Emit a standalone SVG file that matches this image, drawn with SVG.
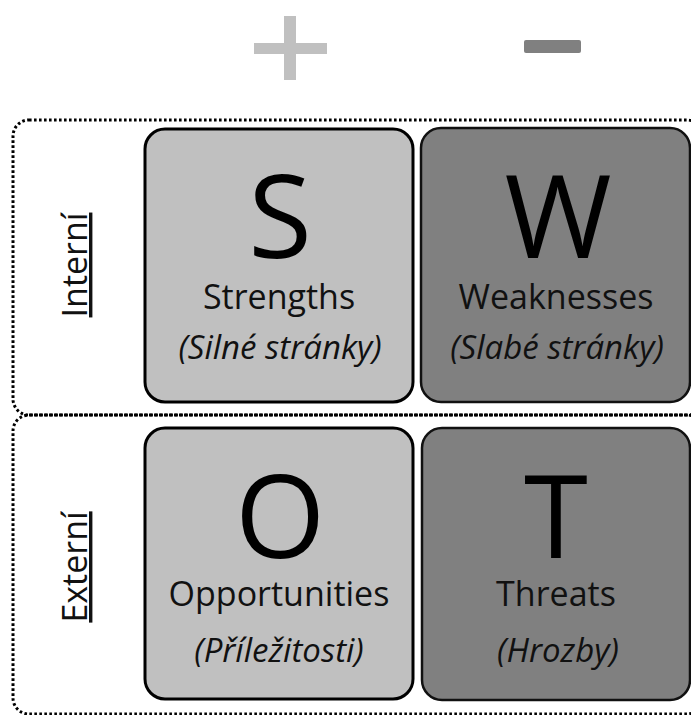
<svg xmlns="http://www.w3.org/2000/svg" width="691" height="715" viewBox="0 0 691 715">
  <style>
    .zone { fill: none; stroke: #000; stroke-width: 3; stroke-dasharray: 2.6 2.4; }
    .pos { fill: #c0c0c0; stroke: #000; stroke-width: 3; }
    .neg { fill: #808080; stroke: #111; stroke-width: 2.5; }
    text { font-family: "Open Sans", "Noto Sans", sans-serif; fill: #000; text-anchor: middle; }
    .big { font-size: 116px; }
    .name { font-size: 34px; fill: #111; }
    .cz { font-size: 33px; font-style: italic; fill: #111; }
    .side { font-size: 34px; fill: #111; }
  </style>

  <!-- column headers: positive / negative -->
  <g id="header-plus">
    <rect x="284" y="16" width="12" height="64" fill="#c0c0c0"/>
    <rect x="254" y="43" width="73" height="11" fill="#c0c0c0"/>
  </g>
  <g id="header-minus">
    <rect x="524" y="40" width="57" height="13" rx="2" fill="#808080"/>
  </g>

  <!-- row frames -->
  <g id="zone-internal">
    <rect class="zone" x="13" y="120" width="690" height="295" rx="16"/>
    <text class="side" transform="translate(87 265) rotate(-90)" text-decoration="underline">Interní</text>
  </g>
  <g id="zone-external">
    <rect class="zone" x="13" y="415" width="690" height="299" rx="16"/>
    <text class="side" transform="translate(87 567) rotate(-90)" text-decoration="underline">Externí</text>
  </g>

  <!-- quadrants -->
  <g id="strengths">
    <rect class="pos" x="145" y="129" width="268" height="273" rx="20"/>
    <text class="big" x="280" y="258">S</text>
    <text class="name" x="279" y="309">Strengths</text>
    <text class="cz" x="280" y="359">(Silné stránky)</text>
  </g>
  <g id="weaknesses">
    <rect class="neg" x="421" y="128" width="269" height="274" rx="20"/>
    <text class="big" x="558" y="258">W</text>
    <text class="name" x="556" y="309">Weaknesses</text>
    <text class="cz" x="557" y="359">(Slabé stránky)</text>
  </g>
  <g id="opportunities">
    <rect class="pos" x="145" y="428" width="268" height="271" rx="20"/>
    <text class="big" x="280" y="558">O</text>
    <text class="name" x="279" y="606">Opportunities</text>
    <text class="cz" x="279" y="662">(Příležitosti)</text>
  </g>
  <g id="threats">
    <rect class="neg" x="422" y="428" width="268" height="272" rx="20"/>
    <text class="big" x="556" y="558">T</text>
    <text class="name" x="556" y="606">Threats</text>
    <text class="cz" x="558" y="662">(Hrozby)</text>
  </g>

  <g id="connectors"/>
</svg>
